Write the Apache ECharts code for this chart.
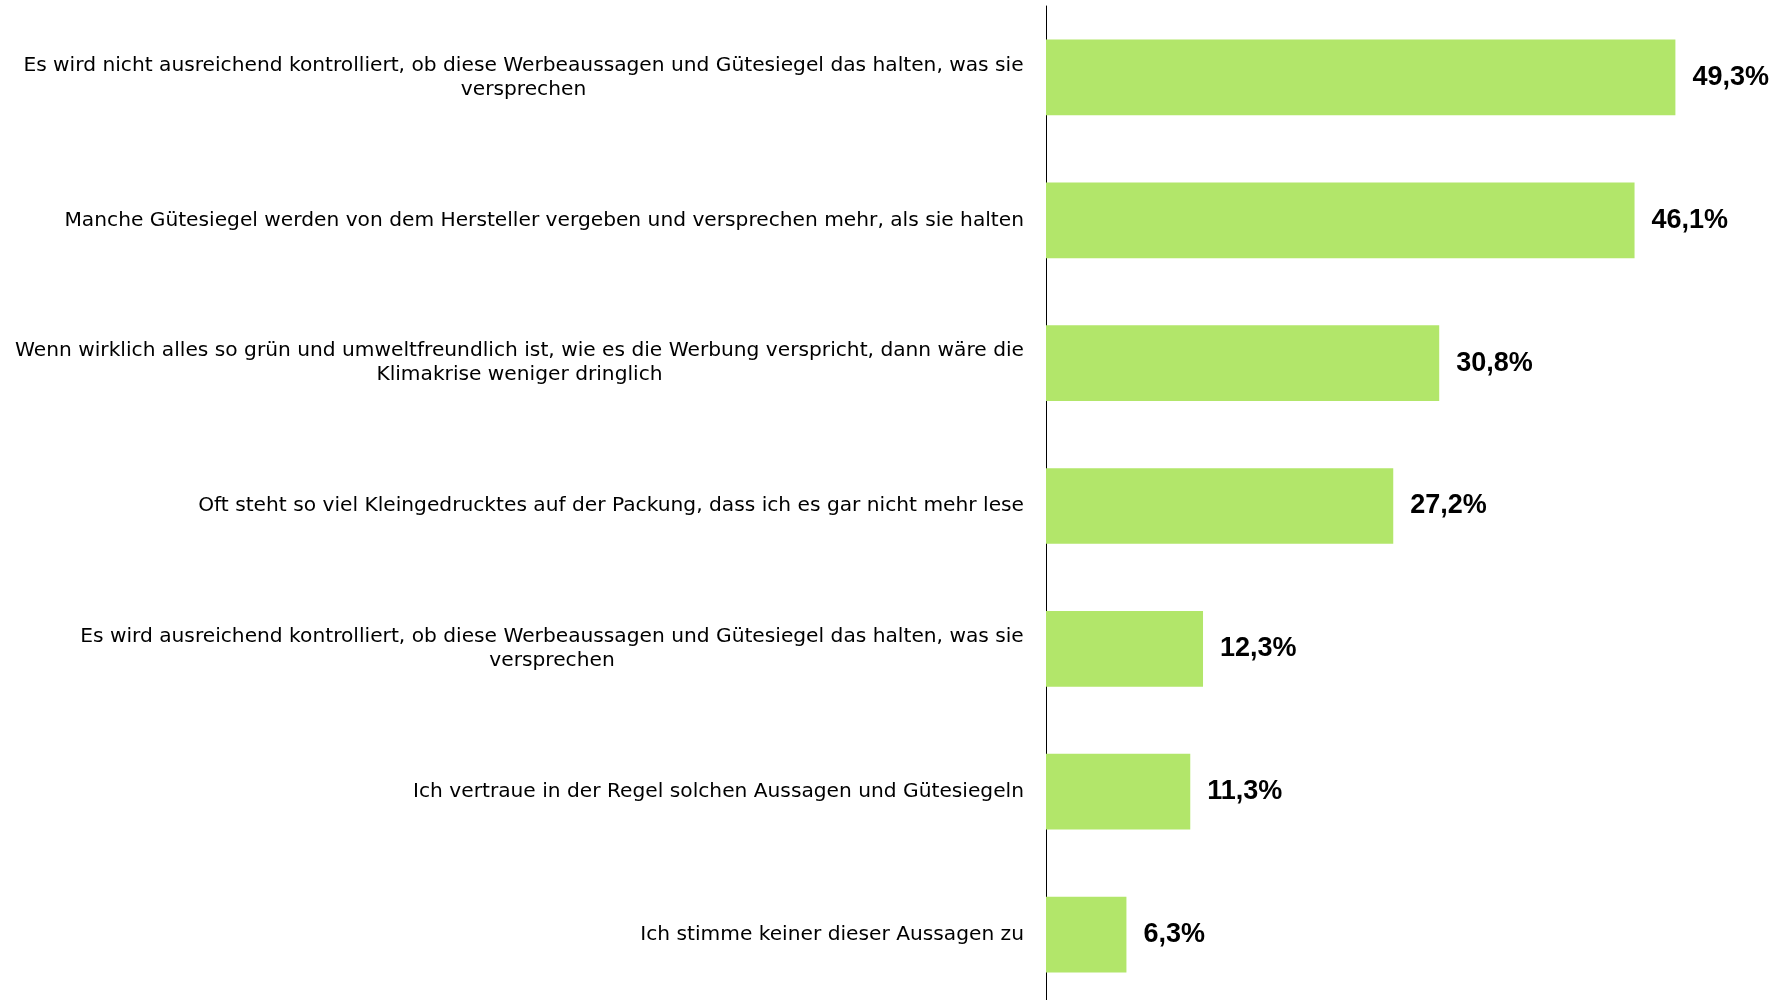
<!DOCTYPE html>
<html>
<head>
<meta charset="utf-8">
<script src="https://cdn.jsdelivr.net/npm/echarts@6/dist/echarts.min.js"></script>
<style>
  html, body { margin: 0; padding: 0; background: #fff; }
  #chart { width: 1784px; height: 1000px; }
</style>
</head>
<body>
<div id="chart"></div>
<script>
// Aussagen (Kategorien), von oben nach unten
var categories = [
  "Es wird nicht ausreichend kontrolliert, ob diese Werbeaussagen und Gütesiegel das halten, was sie\nversprechen",
  "Manche Gütesiegel werden von dem Hersteller vergeben und versprechen mehr, als sie halten",
  "Wenn wirklich alles so grün und umweltfreundlich ist, wie es die Werbung verspricht, dann wäre die\nKlimakrise weniger dringlich",
  "Oft steht so viel Kleingedrucktes auf der Packung, dass ich es gar nicht mehr lese",
  "Es wird ausreichend kontrolliert, ob diese Werbeaussagen und Gütesiegel das halten, was sie\nversprechen",
  "Ich vertraue in der Regel solchen Aussagen und Gütesiegeln",
  "Ich stimme keiner dieser Aussagen zu"
];
// Anteile in Prozent
var values = [49.3, 46.1, 30.8, 27.2, 12.3, 11.3, 6.3];

var fontFamily = "'DejaVu Sans', sans-serif";
var fontSize = 20.2;
var ctx = document.createElement("canvas").getContext("2d");
ctx.font = fontSize + "px " + fontFamily;

// je zweizeiliger Beschriftung ein rich-Stil mit der Breite der ersten Zeile,
// damit die zweite Zeile darunter zentriert steht
var rich = {};
categories.forEach(function (c, i) {
  var lines = c.split("\n");
  if (lines.length > 1) {
    rich["c" + i] = {
      color: "#000",
      fontFamily: fontFamily,
      fontSize: fontSize,
      lineHeight: 24,
      align: "center",
      width: Math.ceil(ctx.measureText(lines[0]).width)
    };
  }
});

const chart = echarts.init(document.getElementById("chart"));
chart.setOption({
  animation: false,
  grid: {
    left: 1046,
    top: 6,
    width: 766,
    height: 1000,
    outerBoundsMode: "none"
  },
  xAxis: {
    type: "value",
    min: 0,
    max: 60,
    show: false
  },
  yAxis: {
    type: "category",
    inverse: true,
    data: categories,
    axisTick: { show: false },
    axisLine: { show: true, lineStyle: { color: "#000", width: 1 } },
    axisLabel: {
      margin: 22,
      color: "#000",
      fontFamily: fontFamily,
      fontSize: fontSize,
      lineHeight: 24,
      formatter: function (v, idx) {
        var lines = v.split("\n");
        if (lines.length < 2) return v;
        return lines.map(function (l) { return "{c" + idx + "|" + l + "}"; }).join("\n");
      },
      rich: rich
    }
  },
  series: [
    {
      type: "bar",
      data: values,
      barCategoryGap: "47%",
      itemStyle: { color: "#b2e66a" },
      label: {
        show: true,
        position: "right",
        distance: 17,
        color: "#000",
        fontFamily: "'Liberation Sans', Arial, sans-serif",
        fontWeight: "bold",
        fontSize: 27,
        formatter: function (p) {
          return p.value.toFixed(1).replace(".", ",") + "%";
        }
      }
    }
  ]
});
</script>
</body>
</html>
